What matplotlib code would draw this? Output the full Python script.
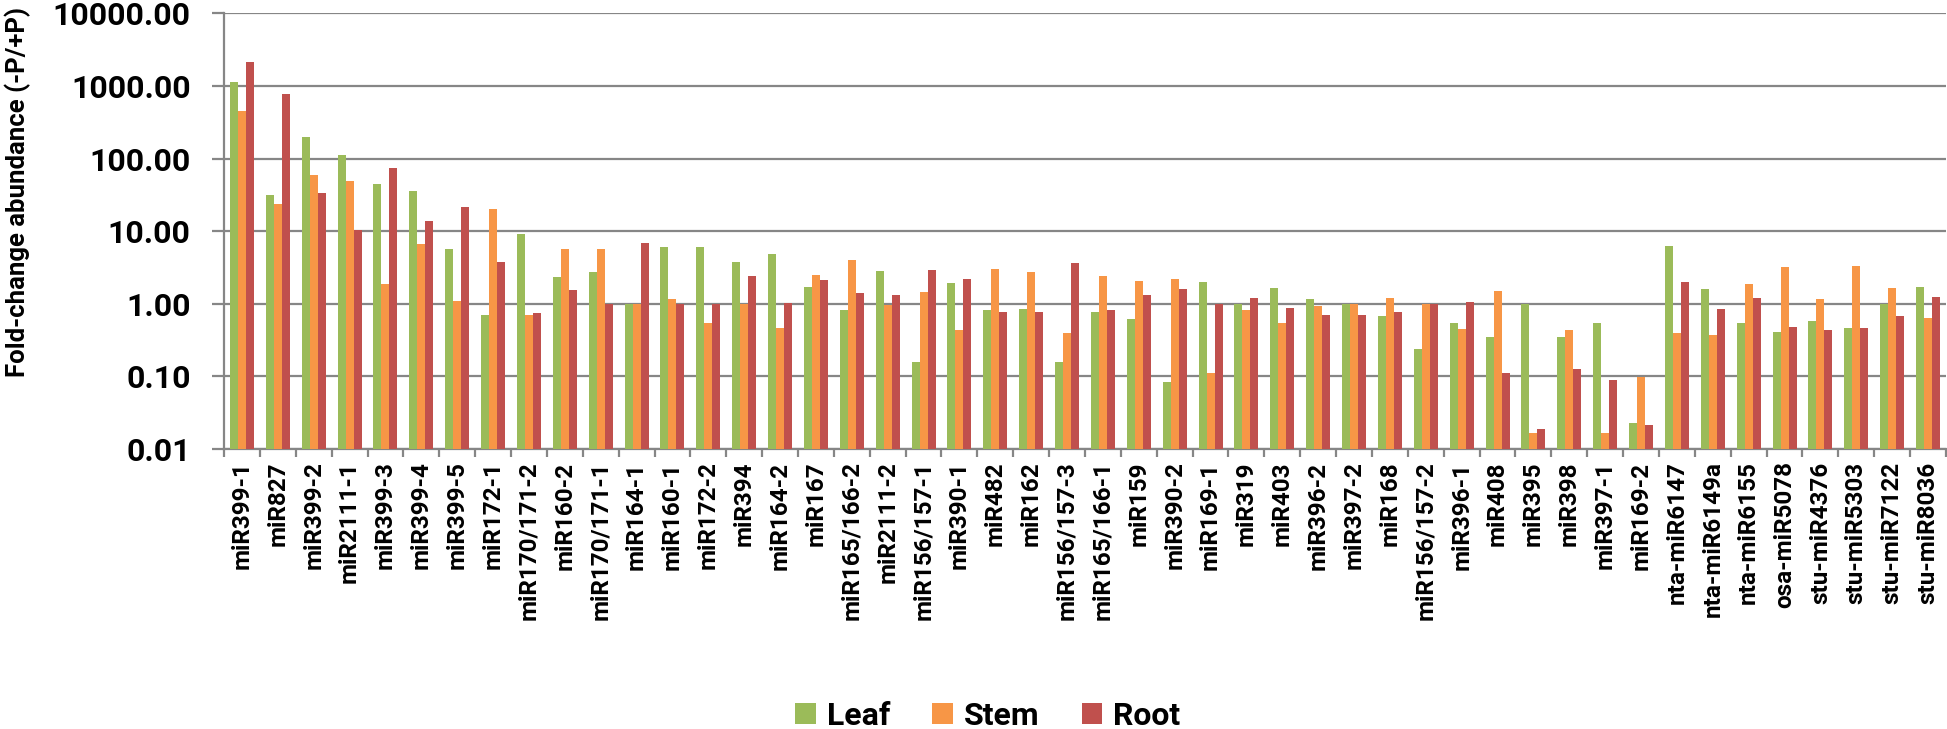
import numpy as np
import matplotlib
matplotlib.use("Agg")
import matplotlib.pyplot as plt
from matplotlib.ticker import FixedLocator, FuncFormatter

mirnas = ["miR399-1", "miR827", "miR399-2", "miR2111-1", "miR399-3", "miR399-4",
          "miR399-5", "miR172-1", "miR170/171-2", "miR160-2", "miR170/171-1",
          "miR164-1", "miR160-1", "miR172-2", "miR394", "miR164-2", "miR167",
          "miR165/166-2", "miR2111-2", "miR156/157-1", "miR390-1", "miR482",
          "miR162", "miR156/157-3", "miR165/166-1", "miR159", "miR390-2",
          "miR169-1", "miR319", "miR403", "miR396-2", "miR397-2", "miR168",
          "miR156/157-2", "miR396-1", "miR408", "miR395", "miR398", "miR397-1",
          "miR169-2", "nta-miR6147", "nta-miR6149a", "nta-miR6155", "osa-miR5078",
          "stu-miR4376", "stu-miR5303", "stu-miR7122", "stu-miR8036"]

leaf = [1120, 31.6, 199, 113, 44, 36, 5.65, 0.70, 9.0, 2.35, 2.7, 1.0, 5.96, 5.96,
        3.74, 4.82, 1.71, 0.81, 2.79, 0.16, 1.92, 0.82, 0.84, 0.157, 0.77, 0.61,
        0.084, 1.97, 1.0, 1.63, 1.15, 1.0, 0.67, 0.24, 0.54, 0.35, 1.0, 0.35, 0.55,
        0.023, 6.28, 1.61, 0.54, 0.41, 0.58, 0.47, 1.0, 1.70]
stem = [447, 23.8, 59, 49, 1.9, 6.6, 1.09, 20.3, 0.71, 5.7, 5.7, 1.0, 1.15, 0.54,
        1.0, 0.46, 2.5, 4.03, 0.97, 1.46, 0.43, 2.97, 2.73, 0.40, 2.45, 2.09,
        2.21, 0.11, 0.82, 0.55, 0.92, 1.0, 1.21, 1.0, 0.45, 1.48, 0.0164, 0.44,
        0.0164, 0.098, 0.40, 0.37, 1.88, 3.2, 1.15, 3.33, 1.63, 0.64]
root = [2130, 779, 33.7, 10.3, 74, 13.6, 21.6, 3.78, 0.74, 1.57, 1.0, 6.76, 1.0, 1.0,
        2.38, 1.04, 2.12, 1.39, 1.30, 2.94, 2.21, 0.76, 0.78, 3.67, 0.82, 1.30,
        1.59, 1.0, 1.21, 0.88, 0.71, 0.71, 0.76, 1.0, 1.06, 0.11, 0.0188, 0.125,
        0.089, 0.0216, 2.01, 0.84, 1.20, 0.48, 0.43, 0.46, 0.68, 1.25]

series = ["Leaf", "Stem", "Root"]
colors = ["#9BBB59", "#F79646", "#C0504D"]
grid_col = "#868686"

fig = plt.figure(figsize=(19.47, 7.29), dpi=100)
ax = fig.add_axes([224 / 1947, 1 - 449 / 729, 1722 / 1947, (449 - 13.3) / 729])

x = np.arange(len(mirnas))
w = 0.222
for k, vals in enumerate([leaf, stem, root]):
    ax.bar(x + (k - 1) * w, vals, width=w, color=colors[k], label=series[k], zorder=3)

ax.set_yscale("log")
ax.set_ylim(0.01, 10000)
ax.set_xlim(-0.5, len(mirnas) - 0.5)

yt = [0.01, 0.1, 1, 10, 100, 1000, 10000]
ax.yaxis.set_major_locator(FixedLocator(yt))
ax.yaxis.set_minor_locator(FixedLocator([]))
ax.yaxis.set_major_formatter(FuncFormatter(lambda v, p: "%.2f" % v))
ax.grid(axis="y", color=grid_col, lw=1.6, zorder=0)

ax.set_xticks(x)
ax.set_xticklabels(mirnas, rotation=90, fontfamily="Roboto", fontweight="bold",
                   fontsize=17.5, va="top")
ax.set_xticks(np.arange(len(mirnas) + 1) - 0.5, minor=True)
ax.tick_params(axis="x", which="major", length=0, pad=9)
ax.tick_params(axis="x", which="minor", length=5.5, width=1.6, color=grid_col)
ax.tick_params(axis="y", which="major", length=9, width=1.6, color=grid_col, pad=15)
for lab in ax.get_yticklabels():
    lab.set_fontfamily("Roboto")
    lab.set_fontweight("bold")
    lab.set_fontsize(23)

for s in ["top", "right"]:
    ax.spines[s].set_visible(False)
for s in ["left", "bottom"]:
    ax.spines[s].set_color(grid_col)
    ax.spines[s].set_linewidth(1.6)

fig.text(18 / 1947, 1 - 192 / 729, "Fold-change abundance (-P/+P)", rotation=90,
         ha="center", va="center", fontfamily="Roboto", fontweight="bold", fontsize=18.5)

fig.legend(loc="center", bbox_to_anchor=(988 / 1947, 1 - 716 / 729), ncol=3,
           frameon=False, prop={"family": "Roboto", "weight": "bold", "size": 23},
           handlelength=0.65, handleheight=0.65, handletextpad=0.35, columnspacing=1.3)

fig.savefig("out.png", dpi=100)
